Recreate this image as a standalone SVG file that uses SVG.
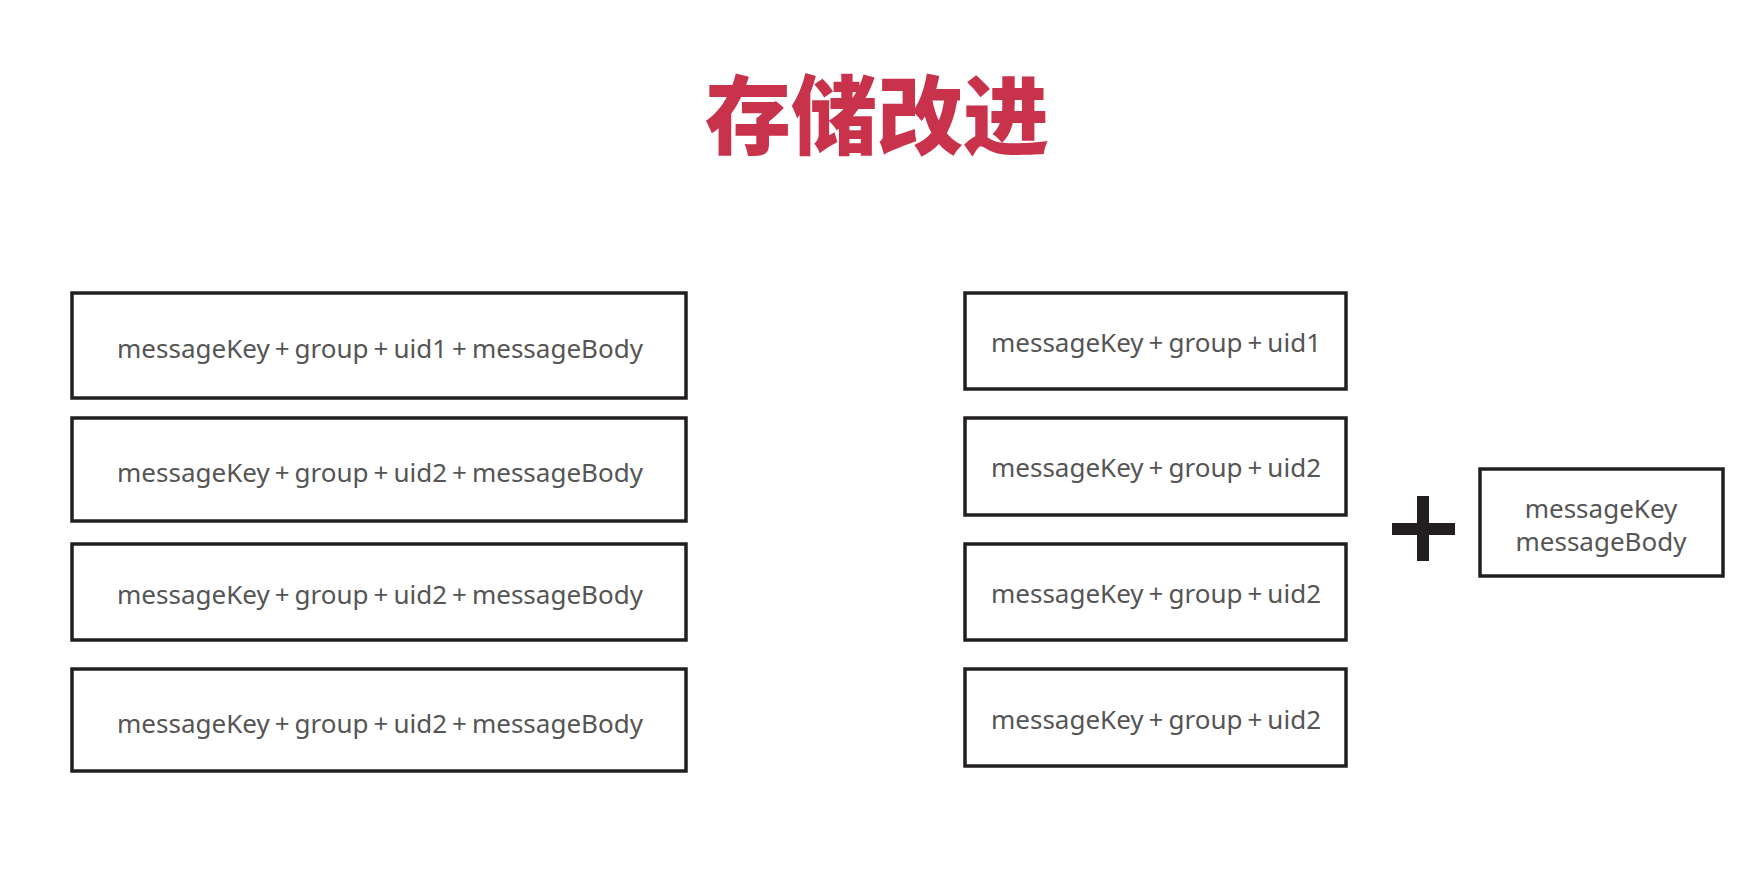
<svg xmlns="http://www.w3.org/2000/svg" width="1764" height="870" viewBox="0 0 1764 870">
<style>
.box{fill:#fff;stroke:#231f20;stroke-width:3.5}
.t{font-family:"Noto Sans","Open Sans",sans-serif;font-size:26px;fill:#555;text-anchor:middle}
.title{font-family:"Noto Sans CJK SC",sans-serif;font-weight:900;font-size:86px;fill:#c9324b;text-anchor:middle}
</style>
<rect width="1764" height="870" fill="#fff"/>
<text class="title" x="877" y="148">存储改进</text>
<g id="left1"><rect class="box" x="72" y="293" width="614" height="105"/><text class="t" x="380" y="358">messageKey<tspan dx="5">+</tspan><tspan dx="5">group</tspan><tspan dx="5">+</tspan><tspan dx="5">uid1</tspan><tspan dx="5">+</tspan><tspan dx="5">messageBody</tspan></text></g>
<g id="left2"><rect class="box" x="72" y="418" width="614" height="103"/><text class="t" x="380" y="482">messageKey<tspan dx="5">+</tspan><tspan dx="5">group</tspan><tspan dx="5">+</tspan><tspan dx="5">uid2</tspan><tspan dx="5">+</tspan><tspan dx="5">messageBody</tspan></text></g>
<g id="left3"><rect class="box" x="72" y="544" width="614" height="96"/><text class="t" x="380" y="604">messageKey<tspan dx="5">+</tspan><tspan dx="5">group</tspan><tspan dx="5">+</tspan><tspan dx="5">uid2</tspan><tspan dx="5">+</tspan><tspan dx="5">messageBody</tspan></text></g>
<g id="left4"><rect class="box" x="72" y="669" width="614" height="102"/><text class="t" x="380" y="733">messageKey<tspan dx="5">+</tspan><tspan dx="5">group</tspan><tspan dx="5">+</tspan><tspan dx="5">uid2</tspan><tspan dx="5">+</tspan><tspan dx="5">messageBody</tspan></text></g>
<g id="right1"><rect class="box" x="965" y="293" width="381" height="96"/><text class="t" x="1156" y="352">messageKey<tspan dx="5">+</tspan><tspan dx="5">group</tspan><tspan dx="5">+</tspan><tspan dx="5">uid1</tspan></text></g>
<g id="right2"><rect class="box" x="965" y="418" width="381" height="97"/><text class="t" x="1156" y="477">messageKey<tspan dx="5">+</tspan><tspan dx="5">group</tspan><tspan dx="5">+</tspan><tspan dx="5">uid2</tspan></text></g>
<g id="right3"><rect class="box" x="965" y="544" width="381" height="96"/><text class="t" x="1156" y="603">messageKey<tspan dx="5">+</tspan><tspan dx="5">group</tspan><tspan dx="5">+</tspan><tspan dx="5">uid2</tspan></text></g>
<g id="right4"><rect class="box" x="965" y="669" width="381" height="97"/><text class="t" x="1156" y="729">messageKey<tspan dx="5">+</tspan><tspan dx="5">group</tspan><tspan dx="5">+</tspan><tspan dx="5">uid2</tspan></text></g>
<g id="plus" fill="#231f20"><rect x="1392" y="523" width="63" height="12"/><rect x="1417" y="496" width="12" height="65"/></g>
<g id="store"><rect class="box" x="1480" y="469" width="243" height="107"/><text class="t" x="1601" y="518">messageKey</text><text class="t" x="1601" y="551">messageBody</text></g>
<g id="connectors"></g>
</svg>
